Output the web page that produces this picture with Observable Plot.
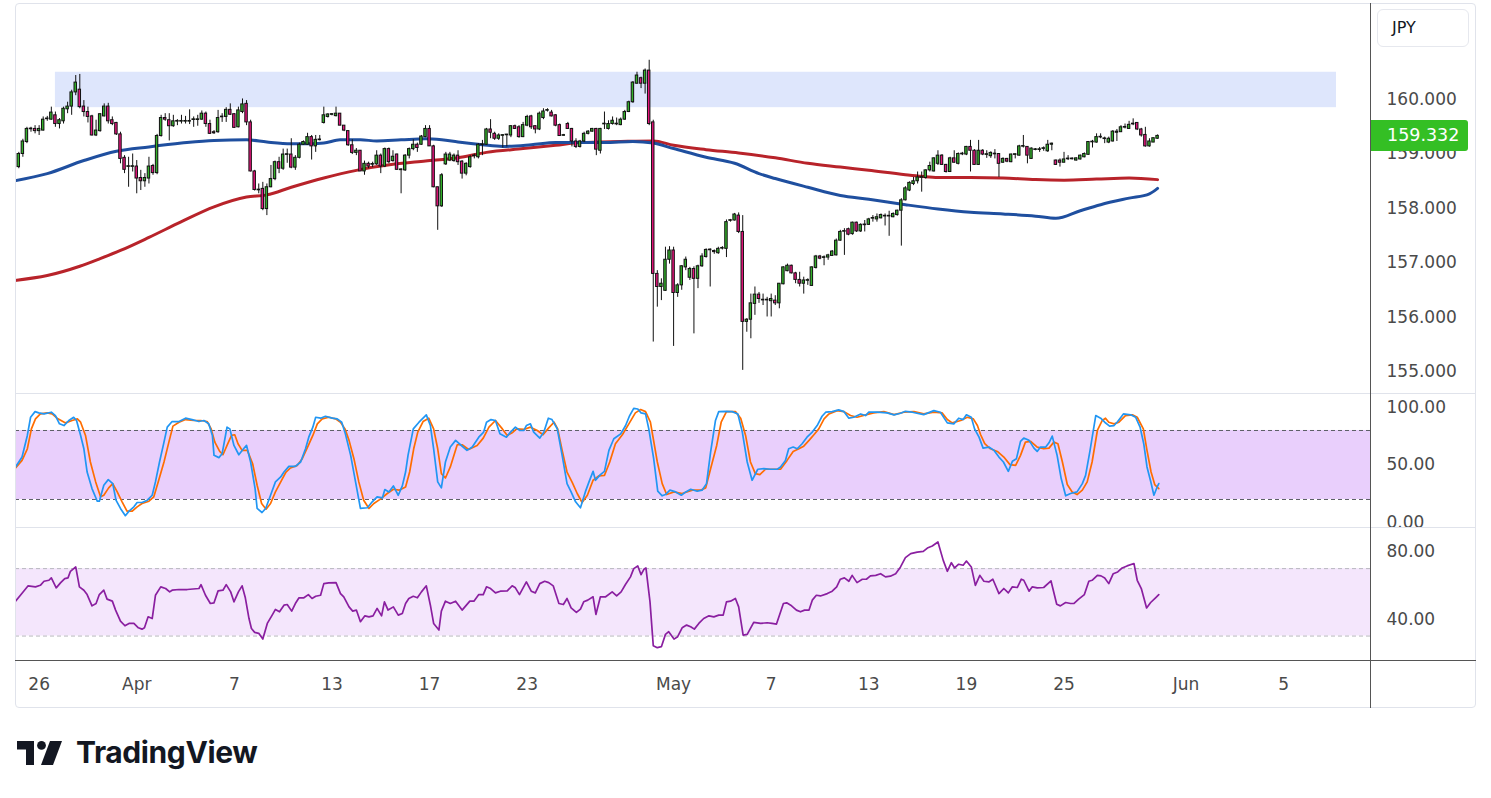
<!DOCTYPE html>
<html><head><meta charset="utf-8">
<script src="https://cdn.jsdelivr.net/npm/d3@7"></script>
<script src="https://cdn.jsdelivr.net/npm/@observablehq/plot@0.6"></script>
<style>
body{margin:0;background:#fff;font-family:"DejaVu Sans",sans-serif;}
#wrap{position:relative;width:1491px;height:798px;overflow:hidden;}
</style></head><body><div id="wrap"></div>
<script>
// ---------- DATA ----------
const open = [
158.76,159.00,159.22,159.46,159.46,159.42,159.43,159.64,159.63,159.71,
159.55,159.60,159.82,159.87,160.13,160.18,159.87,159.77,159.69,159.34,
159.42,159.69,159.87,159.62,159.57,159.36,158.93,158.77,158.77,158.77,
158.56,158.50,158.55,158.78,158.65,159.33,159.66,159.62,159.51,159.60,
159.60,159.60,159.60,159.63,159.63,159.63,159.74,159.55,159.40,159.40,
159.68,159.68,159.81,159.73,159.49,159.77,159.92,159.58,158.68,158.34,
158.36,157.99,158.39,158.54,158.85,158.73,158.99,158.99,158.75,158.93,
159.17,159.17,159.31,159.14,159.26,159.57,159.68,159.725,159.695,159.74,
159.52,159.42,159.16,159.02,159.06,158.68,158.82,158.81,158.81,158.97,
158.77,159.09,158.87,158.99,158.71,158.70,158.97,159.09,159.17,159.17,
159.31,159.46,159.14,158.39,158.04,158.81,158.88,158.87,158.97,158.86,
158.64,158.76,158.96,158.94,159.17,159.17,159.45,159.37,159.28,159.34,
159.35,159.34,159.51,159.49,159.31,159.52,159.69,159.51,159.45,159.66,
159.80,159.76,159.71,159.53,159.34,159.55,159.46,159.23,159.13,159.23,
159.37,159.41,159.46,159.06,159.55,159.46,159.55,159.55,159.53,159.63,
159.77,159.95,160.29,160.39,160.29,160.53,159.58,156.80,156.56,156.49,
157.06,157.23,156.45,156.59,156.92,156.73,156.89,156.71,156.94,157.11,
157.24,157.22,157.18,157.27,157.26,157.78,157.78,157.87,157.57,155.92,
155.96,156.25,156.42,156.32,156.32,156.30,156.31,156.26,156.61,156.85,
156.95,156.81,156.69,156.62,156.68,156.58,156.91,157.12,157.10,157.10,
157.13,157.14,157.41,157.58,157.62,157.53,157.74,157.58,157.70,157.70,
157.82,157.80,157.82,157.86,157.86,157.84,157.88,157.96,158.15,158.33,
158.45,158.50,158.57,158.56,158.70,158.68,158.82,158.97,158.80,158.67,
158.92,158.82,159.00,158.99,159.13,159.06,158.80,159.06,158.99,158.96,
159.00,159.00,158.84,158.91,158.85,158.99,158.97,159.14,159.13,158.91,
159.08,159.08,159.10,159.05,159.17,158.88,158.88,158.84,158.91,158.91,
158.88,158.90,158.94,158.985,159.22,159.21,159.31,159.28,159.21,159.23,
159.39,159.40,159.49,159.46,159.55,159.57,159.45,159.35,159.14,159.21,
159.28];
const high = [
159.03,159.27,159.49,159.49,159.52,159.52,159.68,159.69,159.86,159.77,
159.65,159.86,159.95,160.17,160.44,160.46,159.98,159.86,159.71,159.62,
159.74,159.92,159.93,159.68,159.58,159.40,158.97,158.94,159.00,158.88,
158.70,158.64,158.94,158.81,159.36,159.71,159.74,159.74,159.71,159.63,
159.71,159.69,159.81,159.68,159.71,159.79,159.77,159.62,159.43,159.80,
159.74,159.85,159.92,159.74,159.86,160.01,159.98,159.62,158.70,158.45,
158.48,158.45,158.79,158.87,158.94,159.09,159.09,159.28,158.97,159.20,
159.24,159.38,159.34,159.34,159.34,159.86,159.74,159.74,159.86,159.74,
159.52,159.43,159.26,159.10,159.06,158.87,158.85,158.85,159.06,159.00,
159.11,159.11,159.06,159.00,158.73,158.99,159.11,159.26,159.20,159.34,
159.52,159.52,159.16,158.39,158.64,159.03,159.03,159.00,159.06,158.88,
158.84,158.97,159.00,159.19,159.25,159.47,159.63,159.40,159.37,159.35,
159.36,159.52,159.53,159.52,159.58,159.71,159.71,159.52,159.77,159.83,
159.83,159.80,159.72,159.55,159.36,159.58,159.47,159.28,159.25,159.40,
159.43,159.47,159.47,159.47,159.77,159.61,159.68,159.66,159.66,159.80,
159.97,160.33,160.50,160.41,160.56,160.72,159.62,156.86,156.71,157.29,
157.30,157.29,156.62,156.95,157.11,156.92,156.93,156.96,157.17,157.26,
157.26,157.24,157.29,157.30,157.79,157.80,157.91,157.92,157.87,155.98,
156.43,156.56,156.46,156.43,156.37,156.43,156.40,156.62,156.93,156.98,
156.96,156.83,156.83,156.74,156.71,156.93,157.14,157.14,157.13,157.16,
157.23,157.44,157.60,157.63,157.64,157.75,157.75,157.72,157.78,157.82,
157.87,157.90,157.90,157.90,157.95,157.92,157.97,158.18,158.40,158.49,
158.57,158.67,158.67,158.71,158.85,158.93,159.06,158.99,158.81,158.94,
159.06,159.02,159.03,159.14,159.25,159.08,159.25,159.08,159.06,159.04,
159.08,159.00,158.93,158.92,159.00,159.00,159.16,159.34,159.13,159.11,
159.10,159.12,159.13,159.25,159.20,158.89,158.91,159.03,158.97,158.93,
158.93,158.98,159.02,159.23,159.25,159.37,159.37,159.31,159.31,159.43,
159.45,159.52,159.55,159.60,159.645,159.57,159.47,159.49,159.28,159.29,
159.35];
const low = [
158.73,158.94,159.19,159.40,159.37,159.34,159.42,159.60,159.62,159.49,
159.46,159.55,159.74,159.71,160.07,159.83,159.68,159.57,159.33,159.32,
159.40,159.68,159.55,159.52,159.34,158.82,158.64,158.39,158.67,158.27,
158.33,158.39,158.45,158.61,158.62,159.31,159.60,159.24,159.49,159.52,
159.55,159.55,159.54,159.49,159.51,159.62,159.49,159.36,159.36,159.38,
159.58,159.58,159.71,159.47,159.48,159.74,159.52,158.67,158.32,158.27,
157.96,157.87,158.38,158.51,158.64,158.70,158.83,158.73,158.70,158.91,
159.16,159.16,158.89,159.03,159.24,159.55,159.66,159.70,159.68,159.52,
159.41,159.14,158.99,158.97,158.68,158.61,158.73,158.75,158.79,158.64,
158.75,158.82,158.85,158.70,158.27,158.68,158.91,159.06,159.03,159.16,
159.30,159.14,158.38,157.60,158.02,158.79,158.86,158.85,158.79,158.54,
158.60,158.74,158.91,158.91,158.97,159.16,159.28,159.25,159.25,159.11,
159.13,159.30,159.45,159.29,159.30,159.50,159.45,159.37,159.43,159.63,
159.77,159.68,159.50,159.33,159.33,159.45,159.13,159.10,159.11,159.21,
159.35,159.40,158.97,159.00,159.45,159.44,159.53,159.52,159.52,159.62,
159.76,159.93,160.28,160.20,160.10,159.52,155.55,156.19,156.31,156.48,
156.98,155.47,156.37,156.50,156.86,156.68,155.70,156.53,156.92,157.09,
156.56,157.16,157.16,157.24,157.10,157.75,157.77,157.54,155.03,155.73,
155.61,156.04,156.26,156.22,156.01,156.01,156.22,156.16,156.60,156.84,
156.80,156.62,156.56,156.43,156.59,156.57,156.89,157.06,156.95,157.05,
157.12,157.13,157.40,157.14,157.50,157.51,157.56,157.56,157.57,157.69,
157.75,157.75,157.81,157.68,157.49,157.83,157.86,157.31,158.14,158.31,
158.42,158.45,158.30,158.54,158.67,158.67,158.79,158.79,158.65,158.66,
158.83,158.80,158.97,158.97,158.67,158.79,158.79,158.97,158.92,158.92,
158.91,158.57,158.83,158.84,158.84,158.91,158.96,159.11,158.82,158.90,
159.06,159.03,159.05,159.03,159.06,158.79,158.76,158.84,158.88,158.89,
158.87,158.89,158.93,158.98,159.11,159.20,159.28,159.19,159.19,159.22,
159.23,159.40,159.46,159.46,159.52,159.43,159.31,159.125,159.125,159.21,
159.27];
const close = [
159.00,159.23,159.46,159.46,159.42,159.46,159.63,159.65,159.76,159.55,
159.62,159.83,159.87,160.13,160.31,159.86,159.77,159.68,159.34,159.43,
159.73,159.87,159.60,159.55,159.36,158.91,158.71,158.77,158.77,158.55,
158.50,158.56,158.77,158.65,159.33,159.66,159.63,159.51,159.60,159.60,
159.60,159.60,159.60,159.63,159.63,159.74,159.55,159.37,159.38,159.66,
159.68,159.81,159.72,159.48,159.80,159.91,159.58,158.68,158.34,158.34,
157.99,158.39,158.54,158.85,158.73,158.99,158.99,158.75,158.93,159.17,
159.22,159.31,159.14,159.26,159.26,159.71,159.725,159.725,159.74,159.52,
159.43,159.16,159.02,159.06,158.68,158.82,158.77,158.81,158.97,158.77,
159.09,158.85,158.95,158.71,158.71,158.97,159.09,159.17,159.11,159.32,
159.46,159.14,158.39,158.04,158.61,158.99,158.99,158.97,158.85,158.64,
158.82,158.94,158.97,159.17,159.17,159.45,159.39,159.28,159.34,159.34,
159.35,159.51,159.46,159.31,159.53,159.68,159.49,159.45,159.74,159.78,
159.80,159.69,159.52,159.33,159.34,159.46,159.23,159.13,159.23,159.37,
159.41,159.46,159.08,159.46,159.55,159.55,159.61,159.55,159.63,159.77,
159.95,160.31,160.44,160.29,160.53,159.55,156.80,156.56,156.62,157.06,
157.23,156.45,156.59,156.94,157.06,156.89,156.71,156.94,157.12,157.24,
157.24,157.20,157.26,157.27,157.75,157.78,157.89,157.57,155.92,155.96,
156.26,156.42,156.34,156.32,156.32,156.34,156.26,156.62,156.92,156.95,
156.81,156.69,156.62,156.68,156.68,156.92,157.12,157.08,157.10,157.14,
157.21,157.41,157.57,157.58,157.52,157.74,157.58,157.70,157.70,157.80,
157.82,157.84,157.88,157.86,157.86,157.90,157.96,158.15,158.37,158.47,
158.50,158.57,158.57,158.70,158.78,158.92,158.97,158.80,158.67,158.92,
158.84,159.00,159.00,159.13,159.06,158.80,159.06,158.99,158.99,159.02,
159.00,158.82,158.91,158.86,158.99,158.99,159.14,159.14,158.97,159.10,
159.08,159.08,159.10,159.17,159.19,158.80,158.84,158.90,158.91,158.91,
158.92,158.97,159.00,159.22,159.22,159.31,159.31,159.28,159.28,159.41,
159.41,159.49,159.49,159.535,159.55,159.45,159.34,159.14,159.23,159.29,
159.332];

// moving averages [bar, value]
const blueMA = [[-1,158.51],[7,158.64],[16,158.88],[24,159.05],[32,159.13],[40,159.20],[48,159.25],[56,159.26],[61,159.22],[67,159.19],[72,159.19],[75,159.20],[79,159.26],[84,159.26],[88,159.24],[94,159.26],[100,159.28],[104,159.26],[108,159.22],[114,159.17],[119,159.14],[126,159.17],[132,159.21],[137,159.21],[144,159.21],[151,159.23],[156,159.20],[161,159.10],[169,158.94],[176,158.83],[182,158.64],[186,158.55],[194,158.39],[202,158.24],[209,158.17],[218,158.07],[226,157.99],[234,157.93],[242,157.90],[250,157.86],[255,157.82],[261,157.96],[266,158.07],[273,158.19],[278,158.27],[280,158.37]];
const redMA = [[-1,156.68],[7,156.77],[15,156.94],[20,157.08],[25,157.23],[32,157.47],[40,157.76],[48,158.03],[56,158.21],[61,158.25],[67,158.39],[75,158.56],[83,158.70],[92,158.81],[100,158.87],[108,158.93],[115,159.03],[124,159.10],[132,159.16],[138,159.21],[148,159.23],[156,159.24],[161,159.16],[169,159.08],[177,159.02],[186,158.93],[194,158.83],[202,158.76],[209,158.70],[218,158.62],[222,158.59],[226,158.57],[234,158.57],[242,158.56],[250,158.53],[257,158.52],[265,158.54],[273,158.56],[280,158.53]];

// stochastic %K and %D [bar, value]
const stochK = [[-0.8,48.3],[0.8,56.9],[2.1,75.7],[2.9,91.5],[4.0,96.4],[4.9,95.3],[6.2,94.4],[8.0,95.9],[9.0,93.0],[10.0,85.8],[11.1,84.3],[12.3,88.7],[13.5,91.5],[14.2,88.7],[15.2,75.7],[16.0,64.1],[16.8,43.9],[18.0,29.5],[19.3,18.5],[19.8,18.5],[20.9,32.4],[22.0,37.3],[23.1,33.8],[23.9,19.4],[25.0,12.2],[26.2,5.9],[27.1,9.9],[28.3,13.6],[29.1,17.4],[30.3,17.4],[31.6,19.4],[32.8,23.7],[33.6,35.3],[34.6,52.6],[35.7,69.9],[36.5,82.9],[37.7,87.8],[39.4,87.8],[41.0,90.7],[42.6,89.5],[44.3,87.8],[45.5,88.7],[46.7,85.8],[47.6,75.7],[48.0,58.4],[49.2,56.4],[50.0,59.8],[51.2,82.9],[51.9,81.4],[52.9,67.0],[54.1,58.9],[55.1,63.5],[56.0,67.0],[57.0,52.6],[58.1,29.5],[58.6,12.2],[59.8,8.7],[60.7,12.2],[61.9,23.7],[63.1,35.3],[64.4,39.6],[65.2,43.9],[66.4,48.8],[68.0,48.8],[69.3,52.6],[70.5,64.1],[71.3,74.2],[72.3,82.9],[73.0,91.5],[74.2,90.7],[75.4,92.4],[77.1,90.7],[78.3,90.1],[79.4,87.2],[80.3,77.1],[81.6,58.4],[82.8,35.3],[84.0,12.2],[85.7,12.8],[86.9,18.0],[88.1,22.3],[89.4,21.4],[90.0,28.6],[91.0,26.6],[92.1,31.8],[93.3,23.7],[94.3,31.8],[95.1,43.9],[95.7,58.4],[97.0,81.4],[98.4,87.2],[100.2,93.6],[101.2,84.3],[102.0,64.1],[103.0,35.3],[103.9,30.1],[104.9,52.6],[106.1,65.6],[107.4,71.4],[108.6,67.6],[110.2,62.7],[111.5,65.6],[113.1,74.2],[114.3,78.6],[115.0,87.2],[116.1,89.5],[117.2,88.7],[118.3,77.1],[119.9,74.2],[120.9,78.6],[122.1,82.9],[123.2,80.0],[124.2,80.0],[124.8,84.3],[125.8,85.8],[126.6,78.6],[128.1,73.4],[129.1,78.6],[130.2,90.7],[131.1,89.5],[132.4,81.4],[133.6,58.4],[134.8,33.8],[135.8,26.6],[136.9,18.0],[138.1,12.8],[139.3,26.6],[140.2,35.3],[141.2,44.5],[141.8,36.7],[143.0,41.6],[144.0,44.5],[145.1,62.7],[146.3,72.8],[148.0,77.1],[149.2,84.3],[150.2,93.0],[151.2,99.3],[152.2,98.7],[153.0,95.3],[154.1,94.4],[154.9,81.4],[156.1,55.5],[157.1,27.2],[158.2,23.2],[159.0,24.3],[160.1,28.1],[161.5,26.6],[162.9,23.7],[164.0,26.6],[165.2,28.9],[166.8,27.2],[168.0,28.1],[169.1,33.8],[170.1,61.2],[171.3,88.7],[172.1,96.4],[173.8,96.7],[175.4,96.4],[176.8,94.4],[177.9,78.6],[179.1,52.6],[180.3,36.7],[181.7,46.3],[183.2,46.8],[184.8,46.3],[186.5,46.3],[187.3,48.3],[188.5,54.0],[189.3,64.1],[190.4,65.6],[191.4,64.1],[192.6,68.5],[193.8,74.2],[195.1,78.6],[196.3,84.3],[197.5,92.4],[198.4,95.9],[200.0,96.4],[201.6,97.9],[202.9,96.4],[204.1,90.7],[205.3,91.5],[207.0,94.4],[208.2,93.0],[209.0,95.9],[211.1,95.9],[213.5,95.3],[215.2,93.6],[216.8,95.0],[218.0,96.7],[219.7,95.9],[222.5,93.8],[225.0,97.3],[226.6,95.9],[228.3,86.6],[229.9,85.8],[231.1,90.7],[232.2,89.5],[233.0,93.6],[234.2,91.5],[235.0,81.4],[236.1,74.2],[237.1,64.7],[238.5,65.6],[239.8,62.7],[241.0,56.9],[242.1,52.6],[243.3,44.5],[244.3,53.2],[245.3,55.5],[246.3,70.5],[247.1,73.4],[248.4,71.4],[249.6,64.7],[250.4,61.8],[251.2,65.6],[252.5,65.6],[253.3,69.3],[254.1,75.1],[255.3,58.4],[256.3,38.2],[257.4,23.2],[258.6,25.2],[260.2,26.6],[261.5,33.8],[262.3,41.0],[263.4,62.7],[264.8,93.0],[266.0,90.7],[267.0,87.2],[268.2,83.8],[269.3,84.3],[270.2,87.8],[271.6,94.4],[273.4,93.6],[274.6,91.5],[275.7,82.9],[276.6,68.5],[277.4,48.3],[278.3,35.9],[279.1,23.7],[279.9,30.9],[280.3,33.8]];
const stochD = [[-0.8,47.4],[0.8,54.0],[2.1,64.1],[3.1,81.4],[4.1,90.1],[5.3,94.4],[7.0,95.3],[8.2,94.4],[9.4,90.7],[11.5,86.6],[13.1,88.7],[14.4,90.1],[15.2,87.2],[16.4,75.7],[17.6,52.6],[18.9,35.3],[20.1,22.3],[20.9,23.7],[22.1,30.1],[23.1,33.8],[24.2,26.6],[25.4,18.0],[26.6,9.9],[27.9,9.9],[29.1,13.6],[30.3,16.5],[32.0,18.5],[33.2,22.3],[34.4,36.7],[35.7,52.6],[36.9,69.9],[37.9,83.8],[39.4,87.2],[41.0,89.5],[43.0,88.7],[44.7,88.7],[46.3,87.8],[47.3,81.4],[48.2,69.9],[49.4,61.8],[50.2,58.9],[51.2,67.0],[52.3,75.7],[53.1,76.3],[53.9,68.5],[54.9,62.7],[56.2,62.7],[57.5,51.1],[58.6,32.4],[59.7,16.5],[60.8,11.6],[61.9,16.5],[63.1,26.6],[64.6,36.7],[65.7,43.9],[66.8,47.4],[68.5,49.7],[69.7,55.5],[71.2,67.0],[72.3,75.7],[73.4,85.8],[74.6,90.1],[76.2,91.5],[77.9,90.1],[79.1,87.2],[80.2,81.4],[81.2,71.4],[82.4,55.5],[83.6,35.3],[84.8,19.4],[86.1,12.2],[87.3,16.5],[88.9,20.3],[90.6,25.2],[92.1,28.9],[93.5,28.1],[95.1,30.9],[96.1,43.9],[97.1,64.1],[98.1,78.6],[99.4,87.8],[100.8,90.7],[102.0,81.4],[103.0,64.1],[103.9,42.5],[104.9,38.7],[106.1,48.3],[107.8,67.6],[109.0,67.6],[110.6,63.5],[112.7,67.0],[114.2,73.4],[115.6,82.9],[117.2,88.7],[118.9,81.4],[120.1,75.7],[121.3,78.0],[122.4,81.4],[124.2,80.9],[125.8,82.9],[127.5,80.0],[128.9,76.3],[130.3,82.3],[131.6,87.2],[132.5,81.4],[133.6,62.7],[134.8,43.9],[136.1,34.7],[137.3,25.2],[138.5,17.4],[139.8,23.7],[141.2,36.7],[142.6,40.5],[144.0,41.0],[145.3,52.6],[146.7,68.5],[148.4,76.3],[150.0,85.8],[151.6,95.3],[152.9,98.2],[154.1,96.4],[155.3,87.2],[157.0,52.6],[158.2,33.8],[159.3,24.3],[161.1,26.6],[163.1,25.2],[165.6,28.1],[167.6,28.1],[168.9,30.1],[170.1,46.8],[171.6,67.0],[172.7,87.2],[174.0,96.4],[176.2,96.4],[177.5,90.7],[178.7,75.7],[179.9,52.6],[181.1,42.5],[182.2,41.6],[183.6,46.3],[185.7,46.3],[187.3,46.3],[188.9,54.0],[190.4,61.8],[191.8,64.1],[193.0,66.4],[194.3,71.4],[195.5,76.3],[196.7,81.4],[198.0,90.1],[199.2,94.4],[201.2,97.3],[202.9,96.4],[204.5,93.0],[206.1,91.5],[208.2,93.6],[210.2,95.3],[212.7,96.4],[215.2,93.8],[217.6,95.9],[220.1,96.4],[222.5,94.4],[225.0,95.9],[227.0,95.3],[228.3,89.5],[229.5,86.6],[231.6,88.7],[233.2,91.5],[234.7,90.1],[235.7,84.3],[236.5,76.3],[237.5,68.5],[238.9,64.1],[240.6,61.8],[242.2,56.9],[243.7,50.3],[245.1,49.7],[246.3,58.4],[247.5,69.9],[248.8,70.5],[250.4,65.6],[252.0,64.1],[253.3,64.7],[254.5,69.9],[255.5,68.5],[256.6,52.6],[257.8,33.0],[259.0,26.6],[260.2,24.3],[261.5,28.1],[262.7,35.3],[263.9,52.6],[265.2,80.0],[266.4,88.7],[267.2,90.7],[268.0,87.2],[269.3,85.8],[270.5,87.2],[272.1,93.0],[273.8,93.6],[275.0,91.5],[276.5,81.4],[277.4,62.7],[278.4,43.9],[279.3,33.0],[280.3,29.5]];

// RSI [bar, value]
const rsi = [[-0.8,50.7],[0.4,54.2],[2.3,59.8],[4.1,59.2],[5.3,60.1],[6.2,62.5],[7.4,63.1],[8.0,64.5],[9.2,58.6],[10.3,61.7],[11.3,64.1],[12.1,64.5],[12.7,68.4],[14.0,71.0],[14.9,59.2],[16.0,57.2],[16.8,54.6],[18.0,47.9],[19.0,49.3],[19.8,54.6],[20.9,57.2],[21.7,51.9],[23.0,50.7],[23.8,45.4],[25.0,38.9],[26.1,36.1],[27.1,37.5],[28.3,37.5],[29.4,34.9],[30.3,34.1],[30.9,34.9],[31.8,41.4],[32.8,40.4],[33.6,54.2],[34.9,59.2],[36.1,58.2],[37.1,56.2],[37.7,57.2],[39.4,57.6],[41.4,57.6],[44.3,58.2],[44.8,60.5],[45.9,54.2],[47.1,49.3],[48.0,49.7],[49.0,56.8],[50.2,57.2],[51.0,60.5],[52.1,56.2],[52.9,50.3],[54.0,56.2],[54.9,59.8],[55.7,52.7],[56.6,40.4],[57.2,34.5],[58.0,32.2],[59.0,31.6],[60.0,28.2],[61.1,37.5],[62.3,42.4],[63.1,45.8],[64.1,44.4],[65.2,48.3],[66.0,48.7],[67.1,44.8],[68.0,49.3],[68.9,52.7],[70.1,52.7],[71.2,54.6],[72.1,52.3],[73.0,53.6],[74.2,54.2],[75.0,61.1],[76.2,61.5],[78.0,61.7],[79.1,55.2],[79.9,53.3],[81.2,47.3],[82.1,44.8],[83.0,45.4],[84.0,38.5],[85.1,42.0],[86.1,41.4],[87.1,42.0],[88.1,46.4],[89.2,42.0],[89.9,50.3],[90.8,45.4],[92.1,47.3],[93.3,42.4],[94.3,43.4],[95.1,49.3],[95.9,52.3],[97.0,53.6],[98.0,52.7],[99.0,56.2],[100.2,59.8],[101.2,48.3],[102.0,37.5],[103.3,33.6],[103.9,44.8],[104.9,50.7],[106.1,49.3],[107.4,50.7],[109.0,45.4],[110.9,50.7],[111.9,50.7],[113.1,54.6],[114.2,54.6],[115.0,59.2],[116.0,58.2],[117.2,55.6],[118.4,56.6],[120.1,56.8],[121.3,59.8],[122.1,58.6],[123.1,54.6],[124.8,62.1],[126.0,56.6],[127.0,55.6],[128.1,61.1],[129.3,62.5],[130.3,61.7],[131.4,59.8],[132.8,49.3],[133.9,48.7],[134.8,52.3],[135.8,46.7],[137.1,44.0],[138.1,46.0],[138.9,50.3],[139.9,51.3],[141.2,53.3],[141.9,42.8],[143.0,53.3],[144.3,53.3],[145.9,56.2],[147.0,53.8],[148.1,56.2],[149.2,60.7],[150.4,65.1],[151.2,70.0],[152.2,71.6],[153.0,66.4],[153.7,69.6],[154.2,70.4],[155.2,50.3],[156.0,24.3],[157.0,23.1],[158.0,23.7],[159.0,31.0],[159.8,32.6],[161.1,28.2],[162.0,29.6],[163.1,34.9],[164.2,36.5],[165.2,35.5],[166.1,34.1],[167.2,37.5],[168.4,40.4],[169.7,42.0],[170.9,41.4],[172.1,42.4],[173.2,42.4],[174.0,50.3],[175.0,50.7],[176.2,52.3],[177.0,47.3],[178.1,30.6],[179.1,31.0],[180.7,38.1],[182.4,37.5],[184.0,37.9],[185.2,37.5],[186.3,37.1],[188.0,49.3],[188.8,49.7],[189.8,48.3],[191.2,45.4],[192.2,44.4],[193.2,45.4],[194.3,45.4],[195.1,51.3],[196.1,54.2],[197.1,53.8],[198.8,55.2],[200.0,56.6],[201.1,59.2],[202.0,63.7],[203.0,64.5],[204.1,62.5],[204.9,66.0],[206.1,61.7],[207.4,63.7],[208.4,63.7],[209.4,65.7],[210.7,66.0],[211.9,67.0],[213.1,65.1],[214.3,65.5],[215.6,67.0],[216.8,71.0],[218.0,76.5],[219.3,78.9],[220.9,79.8],[222.4,80.2],[223.4,82.2],[224.6,83.4],[226.0,85.8],[227.3,74.9],[228.3,68.4],[229.3,73.5],[230.1,70.4],[231.1,72.6],[232.2,72.0],[233.0,74.5],[234.2,71.0],[235.2,60.1],[236.3,66.0],[237.3,62.5],[238.5,62.1],[239.5,63.7],[241.0,55.2],[242.2,58.2],[243.3,55.6],[244.3,59.2],[245.5,58.8],[246.5,63.7],[247.1,63.1],[248.4,56.6],[249.2,59.2],[250.4,58.6],[252.0,58.8],[253.8,62.7],[255.2,48.9],[256.1,47.9],[257.4,49.9],[258.6,49.3],[259.4,49.3],[260.6,51.9],[262.0,54.6],[263.1,62.5],[263.9,63.1],[265.2,66.0],[266.1,65.7],[267.0,64.5],[268.0,61.1],[269.1,67.0],[270.2,68.0],[271.3,70.4],[272.5,71.6],[274.2,73.0],[275.0,63.1],[276.0,58.2],[277.3,46.7],[278.3,49.9],[279.5,52.7],[280.3,54.6]];

// resistance zone (bars, prices)
const zoneBars = [9, 324];
const zonePrices = [159.85, 160.5];

// axis ticks and labels
const xTicks = [5, 29, 53, 77, 101, 125, 161, 185, 209, 233, 257, 287, 311];
const xLabels = ["26", "Apr", "7", "13", "17", "23", "May", "7", "13", "19", "25", "Jun", "5"];
const priceTicks = [155, 156, 157, 158, 159, 160];
const stochTicks = [0, 50, 100];
const stochBand = [20, 80];
const rsiTicks = [40, 80];
const rsiBand = [30, 70];
const symbol = "JPY";

// ---------- LAYOUT ----------
const wrap = document.getElementById("wrap");
function put(el, left, top) { el.style.position = "absolute"; el.style.left = left + "px"; el.style.top = top + "px"; wrap.appendChild(el); return el; }
function box(left, top, w, h, css) { const d = document.createElement("div"); d.style.cssText = css || ""; d.style.width = w + "px"; d.style.height = h + "px"; return put(d, left, top); }

const W = 1461, MR = 105;
const xDomain = [-0.811, 332.6];
const FONT = "'DejaVu Sans', sans-serif";
const baseStyle = {fontFamily: FONT, fontSize: "17px", color: "#4a4a4a", background: "transparent", overflow: "visible"};
const UP = "#33b02a", DOWN = "#e3147b";

const candles = close.map((c, i) => ({i, o: open[i], h: high[i], l: low[i], c}));
const bLo = d => Math.abs(d.c - d.o) < 0.012 ? (d.o + d.c) / 2 - 0.006 : Math.min(d.o, d.c);
const bHi = d => Math.abs(d.c - d.o) < 0.012 ? (d.o + d.c) / 2 + 0.006 : Math.max(d.o, d.c);

const pricePlot = Plot.plot({
  width: W, height: 389, marginLeft: 0, marginRight: MR, marginTop: 0, marginBottom: 0,
  x: {domain: xDomain, axis: null},
  y: {domain: [154.606, 161.743]},
  style: baseStyle,
  marks: [
    Plot.rect([0], {x1: zoneBars[0], x2: zoneBars[1], y1: zonePrices[0], y2: zonePrices[1], fill: "#dee6fc"}),
    Plot.line(redMA, {x: d => d[0], y: d => d[1], stroke: "#b8232a", strokeWidth: 3, curve: "monotone-x", clip: true}),
    Plot.line(blueMA, {x: d => d[0], y: d => d[1], stroke: "#1f4f9f", strokeWidth: 3, curve: "monotone-x", clip: true}),
    Plot.ruleX(candles, {x: "i", y1: "l", y2: "h", stroke: "#111", strokeWidth: 1}),
    Plot.rect(candles, {x1: d => d.i - 0.3, x2: d => d.i + 0.3, y1: bLo, y2: bHi,
      fill: d => d.c >= d.o ? UP : DOWN, stroke: "#111", strokeWidth: 1}),
    Plot.axisY({anchor: "right", ticks: priceTicks, tickSize: 0, tickPadding: 15, tickFormat: d => d.toFixed(3)})
  ]
});
put(pricePlot, 15, 4);

const stochPlot = Plot.plot({
  width: W, height: 133, marginLeft: 0, marginRight: MR, marginTop: 0, marginBottom: 0,
  x: {domain: xDomain, axis: null},
  y: {domain: [-4.35, 111.3]},
  style: baseStyle,
  marks: [
    Plot.rect([0], {x1: xDomain[0], x2: xDomain[1], y1: stochBand[0], y2: stochBand[1], fill: "#e9cffc"}),
    Plot.ruleY(stochBand, {stroke: "#5d5f66", strokeWidth: 1, strokeDasharray: "4,3"}),
    Plot.line(stochD, {x: d => d[0], y: d => d[1], stroke: "#ff6d00", strokeWidth: 1.7, clip: true}),
    Plot.line(stochK, {x: d => d[0], y: d => d[1], stroke: "#2196f3", strokeWidth: 1.7, clip: true}),
    Plot.axisY({anchor: "right", ticks: stochTicks, tickSize: 0, tickPadding: 15, tickFormat: d => d.toFixed(2)})
  ]
});
put(stochPlot, 15, 394);

const rsiPlot = Plot.plot({
  width: W, height: 180, marginLeft: 0, marginRight: MR, marginTop: 0, marginBottom: 48,
  x: {domain: xDomain},
  y: {domain: [15.5, 93.8]},
  style: baseStyle,
  marks: [
    Plot.rect([0], {x1: xDomain[0], x2: xDomain[1], y1: rsiBand[0], y2: rsiBand[1], fill: "#f4e6fc"}),
    Plot.ruleY(rsiBand, {stroke: "#b8b8be", strokeWidth: 1, strokeDasharray: "4,3"}),
    Plot.line(rsi, {x: d => d[0], y: d => d[1], stroke: "#8a1fa0", strokeWidth: 1.7, clip: true}),
    Plot.axisY({anchor: "right", ticks: rsiTicks, tickSize: 0, tickPadding: 15, tickFormat: d => d.toFixed(2)}),
    Plot.axisX({anchor: "bottom", ticks: xTicks, tickSize: 0, tickPadding: 17, tickFormat: d => xLabels[xTicks.indexOf(d)]})
  ]
});
put(rsiPlot, 15, 528);

// frame lines
box(15, 3, 1461, 705, "box-sizing:border-box;border:1px solid #e0e3eb;border-radius:4px;pointer-events:none;");
box(15, 393, 1461, 1, "background:#e0e3eb;");
box(15, 527, 1461, 1, "background:#e0e3eb;");
box(15, 660, 1461, 1, "background:#555;");
box(1370, 3, 1, 705, "background:#555;");

// last price label, placed with the price scale
const yLast = pricePlot.scale("y").apply(close[close.length - 1]) + 4;
const lbl = box(1371, Math.round(yLast - 15.5), 97, 31,
  "background:#34bf24;color:#fff;font:17.5px " + FONT + ";line-height:31px;padding-left:16px;box-sizing:border-box;border-radius:0 3px 3px 0;");
lbl.textContent = d3.format(".3f")(close[close.length - 1]);

// symbol box
const sym = box(1377, 9, 92, 38, "box-sizing:border-box;border:1px solid #e6e8ee;border-radius:6px;background:#fff;color:#131722;font:16px " + FONT + ";line-height:36px;padding-left:14px;");
sym.textContent = symbol;

// TradingView logo
const logo = document.createElement("div");
logo.innerHTML = '<svg width="46" height="24" viewBox="0 0 46 24"><path d="M0 0H17V24H9V8.5H0Z" fill="#131722"/><circle cx="24.5" cy="4.4" r="4.4" fill="#131722"/><path d="M33 0H45L36 24H24Z" fill="#131722"/></svg>';
put(logo, 17, 741);
const brand = document.createElement("div");
brand.textContent = "TradingView";
brand.style.cssText = "font:700 30px Inter, 'DejaVu Sans', sans-serif;color:#131722;letter-spacing:-0.4px;line-height:32px;";
put(brand, 76, 736);
</script>
</body></html>
